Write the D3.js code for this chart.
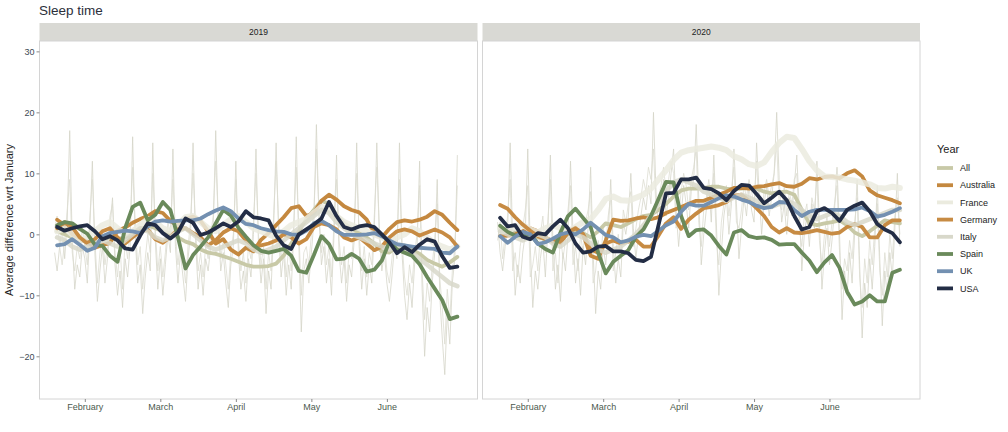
<!DOCTYPE html>
<html>
<head>
<meta charset="utf-8">
<script src="https://cdn.jsdelivr.net/npm/d3@7"></script>
<style>
body { margin: 0; background: #fff; }
text { font-family: "Liberation Sans", Arial, Helvetica, sans-serif; }
</style>
</head>
<body>
<div id="chart"></div>
<script>
// smoothed series are sampled every 3 days, raw series daily
const days = [19, 22, 25, 28, 31, 34, 37, 40, 43, 46, 49, 52, 55, 58, 61, 64, 67, 70,
    73, 76, 79, 82, 85, 88, 91, 94, 97, 100, 103, 106, 109, 112, 115, 118, 121, 124,
    127, 130, 133, 136, 139, 142, 145, 148, 151, 154, 157, 160, 163, 166, 169, 172, 175, 178];
const rawDays = [18, 19, 20, 21, 22, 23, 24, 25, 26, 27,
    28, 29, 30, 31, 32, 33, 34, 35, 36, 37,
    38, 39, 40, 41, 42, 43, 44, 45, 46, 47,
    48, 49, 50, 51, 52, 53, 54, 55, 56, 57,
    58, 59, 60, 61, 62, 63, 64, 65, 66, 67,
    68, 69, 70, 71, 72, 73, 74, 75, 76, 77,
    78, 79, 80, 81, 82, 83, 84, 85, 86, 87,
    88, 89, 90, 91, 92, 93, 94, 95, 96, 97,
    98, 99, 100, 101, 102, 103, 104, 105, 106, 107,
    108, 109, 110, 111, 112, 113, 114, 115, 116, 117,
    118, 119, 120, 121, 122, 123, 124, 125, 126, 127,
    128, 129, 130, 131, 132, 133, 134, 135, 136, 137,
    138, 139, 140, 141, 142, 143, 144, 145, 146, 147,
    148, 149, 150, 151, 152, 153, 154, 155, 156, 157,
    158, 159, 160, 161, 162, 163, 164, 165, 166, 167,
    168, 169, 170, 171, 172, 173, 174, 175, 176, 177,
    178];

const tickDays = [30, 60, 90, 120, 150];
const tickLabels = ["February", "March", "April", "May", "June"];
const yTicks = [-20, -10, 0, 10, 20, 30];

const countries = ["All", "Australia", "France", "Germany", "Italy", "Spain", "UK", "USA"];
const colors = ["#c8c9a7", "#c4883f", "#ebebdf", "#c78b43", "#d8d8ca", "#6a8a5b", "#7390b1", "#232d45"];

// 2019
const all2019 = [0.5, 0.0, -0.5, -1.0, -1.2, -1.5, -0.8, -0.5, -0.8,
    -0.5, 0.0, 0.8, 1.5, 1.0, 0.5, 0.2, -0.5, -1.2,
    -1.6, -2.5, -3.0, -3.2, -3.6, -4.0, -4.5, -5.0, -5.3,
    -5.3, -5.2, -4.8, -3.5, -1.5, 0.5, 2.5, 4.0, 5.5,
    5.0, 3.2, 1.8, 1.0, 0.2, -0.5, -1.5, -2.8, -3.0,
    -2.0, -1.8, -2.5, -3.2, -4.2, -4.8, -5.3, -4.6, -3.7];
const australia2019 = [2.4, 1.5, 0.0, -0.6, -1.2, -2.2, -1.8, -1.4, 0.6,
    1.1, 1.9, 2.5, 3.0, 3.8, 3.5, 2.2, 1.4, 2.5,
    2.9, 2.2, 0.5, -1.5, -0.8, -2.5, -3.3, -2.2, -2.8,
    -0.9, 0.2, 1.5, 2.8, 4.3, 4.6, 3.0, 3.5, 5.5,
    6.5, 5.7, 4.6, 4.0, 3.6, 2.4, 0.2, -0.5, 0.9,
    2.0, 2.3, 2.1, 2.4, 2.9, 3.8, 3.2, 1.9, 0.7];
const france2019 = [0.5, 1.0, 0.0, -1.0, -0.5, 0.5, 1.5, 2.0, 1.0,
    0.0, 0.5, 1.5, 2.5, 2.0, 1.0, 0.5, 1.5, 2.8,
    3.0, 2.0, 1.0, 0.5, 1.5, 2.5, 3.0, 2.0, 1.0,
    0.5, 0.0, -0.5, 0.5, 1.5, 2.0, 2.5, 3.5, 4.5,
    4.0, 3.0, 2.0, 1.5, 1.0, 0.5, 0.0, -0.5, -1.0,
    -0.5, 0.0, 1.0, 0.5, -0.5, -1.5, -2.0, -2.5, -2.0];
const germany2019 = [1.0, 2.0, 1.2, -0.5, -1.5, -0.8, 0.5, 1.0, -0.5,
    -1.5, -0.5, 0.5, 0.8, -0.8, -1.4, -0.4, 0.8, 1.0,
    0.2, -0.5, -1.8, -1.0, 0.3, 1.0, 0.5, -1.0, -2.0,
    -1.8, -1.5, -1.0, 0.0, -0.5, -1.5, -0.8, 1.2, 1.8,
    1.5, 0.8, -0.5, -1.0, -0.5, -1.5, -2.6, -2.0, -0.5,
    0.5, 0.8, 0.5, -0.2, 0.3, 0.8, 0.3, -0.5, -2.0];
const italy2019 = [-0.5, -1.0, -2.0, -2.5, -2.0, -1.5, -1.0, -1.5, -2.0,
    -1.0, 0.0, 1.0, 0.5, -0.5, -1.0, -0.5, 0.5, 1.0,
    0.0, -1.0, -2.0, -2.5, -2.0, -1.5, -1.0, -1.5, -2.5,
    -3.0, -2.5, -2.0, -1.0, 0.0, 1.0, 2.0, 3.0, 4.0,
    3.5, 2.0, 1.0, 0.0, -0.5, -1.0, -1.5, -2.0, -2.5,
    -2.0, -2.5, -3.0, -4.0, -5.0, -6.0, -7.0, -8.0, -8.5];
const spain2019 = [1.5, 2.0, 1.8, 0.9, 0.1, -1.7, -1.9, -3.5, -4.5,
    1.0, 4.5, 5.2, 2.3, 3.2, 5.3, 4.0, -0.5, -5.6,
    -3.4, -2.0, -0.5, 1.8, 4.0, 3.1, 1.1, -0.4, -1.8,
    -2.7, -3.0, -2.7, -2.4, -3.5, -6.0, -6.3, -3.4, -0.3,
    -1.6, -4.1, -4.0, -3.2, -4.0, -6.1, -5.8, -4.3, -1.2,
    -2.5, -3.0, -3.5, -4.9, -7.0, -8.9, -10.8, -13.9, -13.5];
const uk2019 = [-1.8, -1.6, -0.8, -1.7, -2.7, -2.2, -0.3, 0.2, 0.4,
    0.6, 0.5, 0.2, 1.3, 2.1, 2.3, 2.1, 2.2, 2.3,
    2.3, 2.6, 3.3, 3.9, 4.4, 3.8, 2.6, 1.7, 1.5,
    1.0, 0.7, 0.5, 0.4, 0.0, -0.1, 0.6, 1.8, 2.2,
    1.5, 0.5, -0.1, -0.1, -0.1, 0.0, 0.2, -0.3, -1.0,
    -1.6, -1.8, -2.0, -2.2, -2.3, -2.4, -3.0, -3.1, -2.0];
const usa2019 = [1.2, 0.6, 1.0, 1.3, 1.5, 0.5, -0.8, -0.3, -1.0,
    -2.3, -2.5, -0.2, 1.8, 1.5, 0.2, -0.7, 0.3, 2.6,
    1.9, -0.1, 0.3, 1.0, 1.8, 1.2, 2.1, 3.8, 2.8,
    2.6, 2.3, -0.2, -1.8, -2.4, 0.0, 0.8, 1.6, 2.6,
    5.3, 3.0, 1.2, 0.8, 1.3, 1.5, 1.2, 0.0, -1.3,
    -3.1, -2.1, -2.9, -1.7, -0.8, -1.2, -3.6, -5.5, -5.3];

// 2020
const all2020 = [1.0, 0.8, 0.3, -0.2, -0.6, -0.5, -0.8, -1.2, -0.8,
    0.0, 0.5, 0.2, -0.5, 0.5, 1.8, 1.5, 1.2, 1.8,
    2.5, 3.0, 3.2, 4.0, 5.0, 6.2, 7.2, 7.5, 7.5,
    7.6, 7.8, 7.8, 7.5, 7.4, 7.5, 7.6, 7.5, 7.0,
    6.7, 6.9, 7.0, 6.5, 4.0, 1.8, 1.5, 1.8, 2.0,
    2.3, 1.5, 0.3, -0.3, 0.5, 1.4, 2.3, 2.0, 1.8];
const australia2020 = [-0.3, -0.2, 0.0, 0.5, 1.0, 0.5, -0.5, -1.2, -1.0,
    0.6, 1.1, 0.0, -3.5, -4.0, -1.0, 2.4, 2.2, 2.3,
    2.6, 2.8, 2.5, 2.8, 3.5, 4.0, 4.5, 5.0, 5.5,
    5.5, 6.0, 6.5, 7.0, 7.6, 7.6, 7.5, 7.8, 7.9,
    8.2, 8.4, 7.9, 7.8, 8.3, 9.2, 9.0, 9.4, 9.5,
    9.2, 10.0, 10.5, 9.5, 7.2, 6.4, 6.0, 5.6, 5.1];
const france2020 = [1.0, 0.5, 1.2, 1.5, 0.8, 0.3, 1.0, 1.5, 1.0,
    0.5, 1.2, 2.0, 2.5, 4.0, 5.8, 6.2, 5.6, 5.5,
    6.0, 6.5, 7.5, 9.0, 10.5, 12.2, 13.4, 13.8, 14.0,
    14.2, 14.4, 14.2, 13.8, 12.8, 12.3, 11.5, 11.2, 11.8,
    13.5, 15.0, 16.0, 15.8, 14.0, 12.0, 10.5, 9.5, 9.4,
    9.3, 9.0, 8.8, 8.5, 8.2, 7.6, 7.5, 7.8, 7.6];
const germany2020 = [4.8, 4.2, 2.8, 1.6, 0.6, -0.3, -0.8, -1.0, -1.4,
    0.3, 1.0, 0.0, -2.5, -3.0, -1.5, -1.0, -1.5, -1.2,
    -0.9, -2.0, -2.0, -0.2, 1.8, 2.8, 0.9, 2.4, 3.4,
    4.3, 4.5, 4.8, 5.3, 6.3, 6.5, 5.5, 4.3, 3.0,
    1.2, 0.3, 1.0, 0.3, 0.2, 0.4, 0.7, 0.4, 0.1,
    0.3, 1.2, 1.7, 1.2, -0.5, -0.5, 1.5, 2.3, 2.3];
const italy2020 = [0.5, 0.0, -0.5, -1.0, -0.5, 0.0, -0.5, -1.5, -2.0,
    -1.0, 0.0, -0.5, -1.5, -2.5, -3.0, -2.5, -2.0, -1.0,
    0.0, 1.5, 3.0, 5.0, 7.0, 8.5, 9.0, 8.5, 8.0,
    7.0, 6.5, 6.0, 5.5, 6.0, 6.5, 6.0, 5.5, 5.0,
    4.5, 5.0, 5.5, 5.0, 4.0, 3.0, 2.5, 3.0, 3.5,
    3.0, 2.0, 1.5, 2.0, 2.5, 3.0, 3.5, 4.0, 4.0];
const spain2020 = [1.4, 0.4, -0.2, -0.1, 0.0, -1.5, -2.4, -3.0, 0.3,
    3.0, 4.2, 2.7, 1.2, -3.0, -6.4, -4.5, -3.5, -2.6,
    -0.4, 0.8, 3.0, 5.8, 8.6, 8.5, 3.0, -0.3, 0.7,
    0.8, -0.2, -1.9, -3.3, 0.3, 0.7, -0.3, -0.6, -0.5,
    -0.9, -1.7, -1.6, -1.6, -3.0, -4.3, -6.2, -4.6, -3.4,
    -5.5, -9.4, -11.5, -11.0, -10.0, -11.0, -11.0, -6.3, -5.8];
const uk2020 = [-0.3, -1.4, -0.4, 0.4, 0.0, -1.6, -1.3, -0.7, 0.0,
    0.3, 0.0, 0.8, 1.9, 0.9, -0.1, -0.5, -1.3, -1.0,
    -0.4, -0.1, -0.3, 0.6, 1.5, 2.1, 3.7, 5.0, 4.7,
    4.7, 5.3, 5.9, 6.4, 6.2, 5.7, 5.3, 4.7, 4.3,
    4.5, 5.3, 5.2, 4.0, 3.0, 3.7, 4.0, 4.0, 4.0,
    4.0, 4.0, 4.1, 4.4, 3.8, 2.9, 3.2, 3.7, 4.3];
const usa2020 = [2.7, 1.3, 1.5, -0.4, -0.8, 0.2, 0.0, 1.3, 2.4,
    1.0, -1.5, -3.0, -2.8, -2.0, -1.9, -2.8, -2.8, -3.1,
    -4.2, -4.4, -3.7, 1.5, 6.7, 6.8, 9.0, 9.0, 9.3,
    7.6, 7.4, 6.7, 5.6, 7.1, 8.1, 8.0, 6.6, 5.1,
    6.0, 7.0, 5.6, 3.0, 0.8, 1.2, 3.8, 4.3, 3.5,
    2.2, 4.0, 4.7, 5.2, 3.8, 1.7, 0.8, 0.2, -1.3];

// raw daily values (thin lines), one row per 10 days
const raw2019a = [-3, -6, -2, 1, -4, 2, 17, -1, -9, -5,
    -7, -2, -4, -8, 1, 12, -3, -11, -6, -2,
    -8, -4, 1, 6, -5, -10, -6, -12, -4, -7,
    -2, 16, 0, -8, -5, -13, -7, -3, -6, 15,
    -1, -9, -4, -10, -5, 0, -3, 14, -2, -8,
    -3, -7, -11, -4, 0, 15, -1, -9, -5, -10,
    -4, -6, -2, 1, 17, 2, -6, -3, -8, -12,
    -5, -2, 12, -3, -9, -6, -11, -4, -7, 0,
    14, -2, -8, -4, -13, -6, -9, 1, 15, 0,
    -7, -3, -10, -5, -9, 0, 16, -1, -16, -6,
    -4, -8, -3, 2, 18, 3, -5, -2, -8, -4,
    -10, 0, 13, -3, -8, -4, -11, -5, -7, -1,
    15, -2, -9, -4, -10, -5, -8, 1, 15, 0,
    -6, -3, -8, -11, -7, -2, -4, 15, -3, -10,
    -14, -8, -12, -5, -2, 12, -9, -20, -12, -16,
    -8, -3, 9, -10, -17, -23, -13, -18, -8, -4,
    13];
const raw2019b = [1, 3, -2, -5, -1, 4, 9, -3, -6, -2,
    -4, 1, -2, -5, 3, 9, -1, -8, -3, 0,
    -5, -2, 3, 5, -3, -7, -2, -9, -1, -4,
    1, 11, 2, -5, -2, -9, -4, 0, -3, 10,
    1, -6, -2, -7, -3, 2, 0, 9, 0, -5,
    -1, -4, -8, -2, 2, 10, 1, -6, -3, -7,
    -2, -4, 0, 3, 12, 3, -4, -1, -5, -9,
    -3, 0, 9, -1, -6, -3, -8, -2, -4, 2,
    10, 0, -5, -2, -9, -3, -6, 3, 12, 2,
    -4, -1, -7, -2, -6, 2, 11, 1, -10, -3,
    -2, -5, 0, 4, 14, 4, -3, 0, -5, -2,
    -7, 2, 9, -1, -5, -2, -8, -3, -4, 1,
    10, 0, -6, -2, -7, -3, -5, 3, 11, 1,
    -4, -1, -6, -8, -4, 0, -2, 9, -1, -7,
    -10, -5, -8, -3, 0, 8, -6, -14, -8, -11,
    -5, -1, 5, -7, -12, -18, -9, -14, -6, -2,
    8];
const raw2020a = [2, -3, -6, -2, 1, 15, -1, -10, -5, -8,
    -3, 0, 14, -2, -12, -6, -9, -4, -1, -7,
    1, 13, -1, -9, -5, -11, -3, -6, 0, 12,
    0, -8, -4, -10, -2, -5, 1, 11, -3, -13,
    -6, -9, -2, -5, 0, 9, -2, -8, -4, -7,
    2, 0, 3, 10, 1, -4, 0, 3, 6, 4,
    8, 5, 20, 7, 1, 4, 9, 3, 6, 10,
    14, 4, -2, 3, 8, 5, 1, 7, 9, 18,
    6, -5, 0, 4, 8, 2, 13, 2, -10, -3,
    3, 6, 0, 5, 14, 5, -4, 1, 6, 3,
    8, 4, 2, 15, 7, 0, 5, 8, 3, 6,
    10, 20, 9, 2, 5, 0, 6, 3, 8, 13,
    4, -6, 0, 3, -2, 5, 1, 12, 2, -9,
    -3, 1, -5, -1, 4, 11, 0, -14, -6, -10,
    -3, -8, 0, 9, -5, -17, -8, -12, -4, -9,
    -2, 8, -4, -15, -6, -10, -3, -7, 1, 10,
    -2];
const raw2020b = [-1, 2, -4, 0, 3, 9, -6, -3, -7, -2,
    1, 4, 8, -7, -5, -2, -6, 0, 3, -3,
    2, 9, -6, -3, -8, 0, -4, -1, 4, 8,
    -5, -2, -6, 0, -3, 2, 4, 7, -8, -6,
    -1, -4, 1, -2, 3, 6, -6, -3, 0, -4,
    4, 2, 5, 7, -2, 1, 4, 6, 9, 7,
    11, 9, 14, 4, 6, 8, 11, 7, 9, 12,
    10, 1, 3, 7, 10, 8, 4, 9, 11, 14,
    2, -2, 4, 6, 9, 5, 10, -1, -5, 2,
    5, 8, 3, 7, 11, 2, 1, 4, 8, 6,
    9, 7, 5, 12, 4, 3, 7, 9, 6, 8,
    10, 15, 5, 4, 8, 3, 7, 5, 9, 10,
    1, -2, 3, 5, 0, 6, 4, 9, -1, -5,
    0, 3, -2, 2, 5, 8, -3, -9, -4, -6,
    -1, -4, 2, 6, -7, -12, -4, -8, -1, -5,
    1, 5, -6, -10, -3, -7, 0, -4, 3, 6,
    0];

const width = 1008;
const height = 432;
const plotTop = 41, plotBottom = 399;

const panels = [
    { year: "2019", left: 39.5, right: 477.5, raw: [raw2019a, raw2019b],
      series: [all2019, australia2019, france2019, germany2019, italy2019, spain2019, uk2019, usa2019] },
    { year: "2020", left: 482.5, right: 920, raw: [raw2020a, raw2020b],
      series: [all2020, australia2020, france2020, germany2020, italy2020, spain2020, uk2020, usa2020] }
];

const svg = d3.select("#chart")
    .append("svg")
    .attr("width", width)
    .attr("height", height);

const y = d3.scaleLinear()
    .domain([-27, 31.7])
    .range([plotBottom, plotTop]);

svg.append("text")
    .attr("x", 39)
    .attr("y", 15)
    .attr("font-size", "13.5px")
    .attr("fill", "#2b2f3a")
    .text("Sleep time");

svg.append("text")
    .attr("transform", "translate(13,220) rotate(-90)")
    .attr("text-anchor", "middle")
    .attr("font-size", "11px")
    .attr("fill", "#1e1e1e")
    .text("Average difference wrt January");

panels.forEach((p, pi) => {
    const x = d3.scaleLinear()
        .domain([12, 186])
        .range([p.left, p.right]);

    const g = svg.append("g");

    // strip
    g.append("rect")
        .attr("x", p.left)
        .attr("y", 23)
        .attr("width", p.right - p.left)
        .attr("height", plotTop - 23)
        .attr("fill", "#d9d9d4");
    g.append("text")
        .attr("x", (p.left + p.right) / 2)
        .attr("y", 35)
        .attr("text-anchor", "middle")
        .attr("font-size", "8.5px")
        .attr("fill", "#222")
        .text(p.year);

    const clipId = "clip" + pi;
    svg.append("clipPath").attr("id", clipId)
        .append("rect")
        .attr("x", p.left).attr("y", plotTop)
        .attr("width", p.right - p.left).attr("height", plotBottom - plotTop);

    const plot = g.append("g").attr("clip-path", `url(#${clipId})`);

    const rawLine = d3.line()
        .x((d, i) => x(rawDays[i]))
        .y(d => y(d));

    plot.selectAll(".raw")
        .data(p.raw)
        .enter()
        .append("path")
        .attr("d", rawLine)
        .attr("fill", "none")
        .attr("stroke", (d, i) => i === 0 ? "#d4d4c6" : "#dcdcd0")
        .attr("stroke-width", 0.9)
        .attr("opacity", 0.85);

    const line = d3.line()
        .x((d, i) => x(days[i]))
        .y(d => y(d));

    plot.selectAll(".smooth")
        .data(p.series)
        .enter()
        .append("path")
        .attr("d", line)
        .attr("fill", "none")
        .attr("stroke", (d, i) => colors[i])
        .attr("stroke-width", (d, i) => i === 2 ? 6 : (i === 4 ? 4.6 : 3.8))
        .attr("stroke-linejoin", "round")
        .attr("stroke-linecap", "round")
        .attr("opacity", (d, i) => (i === 2 || i === 4) ? 0.85 : 1);

    // border
    g.append("rect")
        .attr("x", p.left)
        .attr("y", plotTop)
        .attr("width", p.right - p.left)
        .attr("height", plotBottom - plotTop)
        .attr("fill", "none")
        .attr("stroke", "#d4d4d4")
        .attr("stroke-width", 1);

    const xAxis = g.append("g")
        .attr("transform", `translate(0,${plotBottom})`)
        .call(d3.axisBottom(x)
            .tickValues(tickDays)
            .tickFormat((d, i) => tickLabels[i])
            .tickSize(3)
            .tickPadding(2));
    xAxis.select(".domain").remove();
    xAxis.selectAll("line").attr("stroke", "#8a8a8a");
    xAxis.selectAll("text")
        .attr("font-size", "9px")
        .attr("fill", "#4c5a4e")
        .style("font-family", "\"Liberation Sans\", Arial, sans-serif");

    if (pi === 0) {
        const yAxis = g.append("g")
            .attr("transform", `translate(${p.left},0)`)
            .call(d3.axisLeft(y)
                .tickValues(yTicks)
                .tickSize(3)
                .tickPadding(2));
        yAxis.select(".domain").remove();
        yAxis.selectAll("line").attr("stroke", "#8a8a8a");
        yAxis.selectAll("text")
            .attr("font-size", "9px")
            .attr("fill", "#3e4a54")
            .style("font-family", "\"Liberation Sans\", Arial, sans-serif");
    }
});

// legend
const legend = svg.append("g").attr("transform", "translate(937,0)");
legend.append("text")
    .attr("x", 0)
    .attr("y", 153)
    .attr("font-size", "11px")
    .attr("fill", "#222")
    .text("Year");

const items = legend.selectAll(".item")
    .data(countries)
    .enter()
    .append("g")
    .attr("transform", (d, i) => `translate(0,${168 + i * 17.2})`);

items.append("line")
    .attr("x1", 0)
    .attr("x2", 16)
    .attr("stroke", (d, i) => colors[i])
    .attr("stroke-width", 3.8);

items.append("text")
    .attr("x", 23)
    .attr("y", 3.2)
    .attr("font-size", "9px")
    .attr("fill", "#222")
    .text(d => d);
</script>
</body>
</html>
